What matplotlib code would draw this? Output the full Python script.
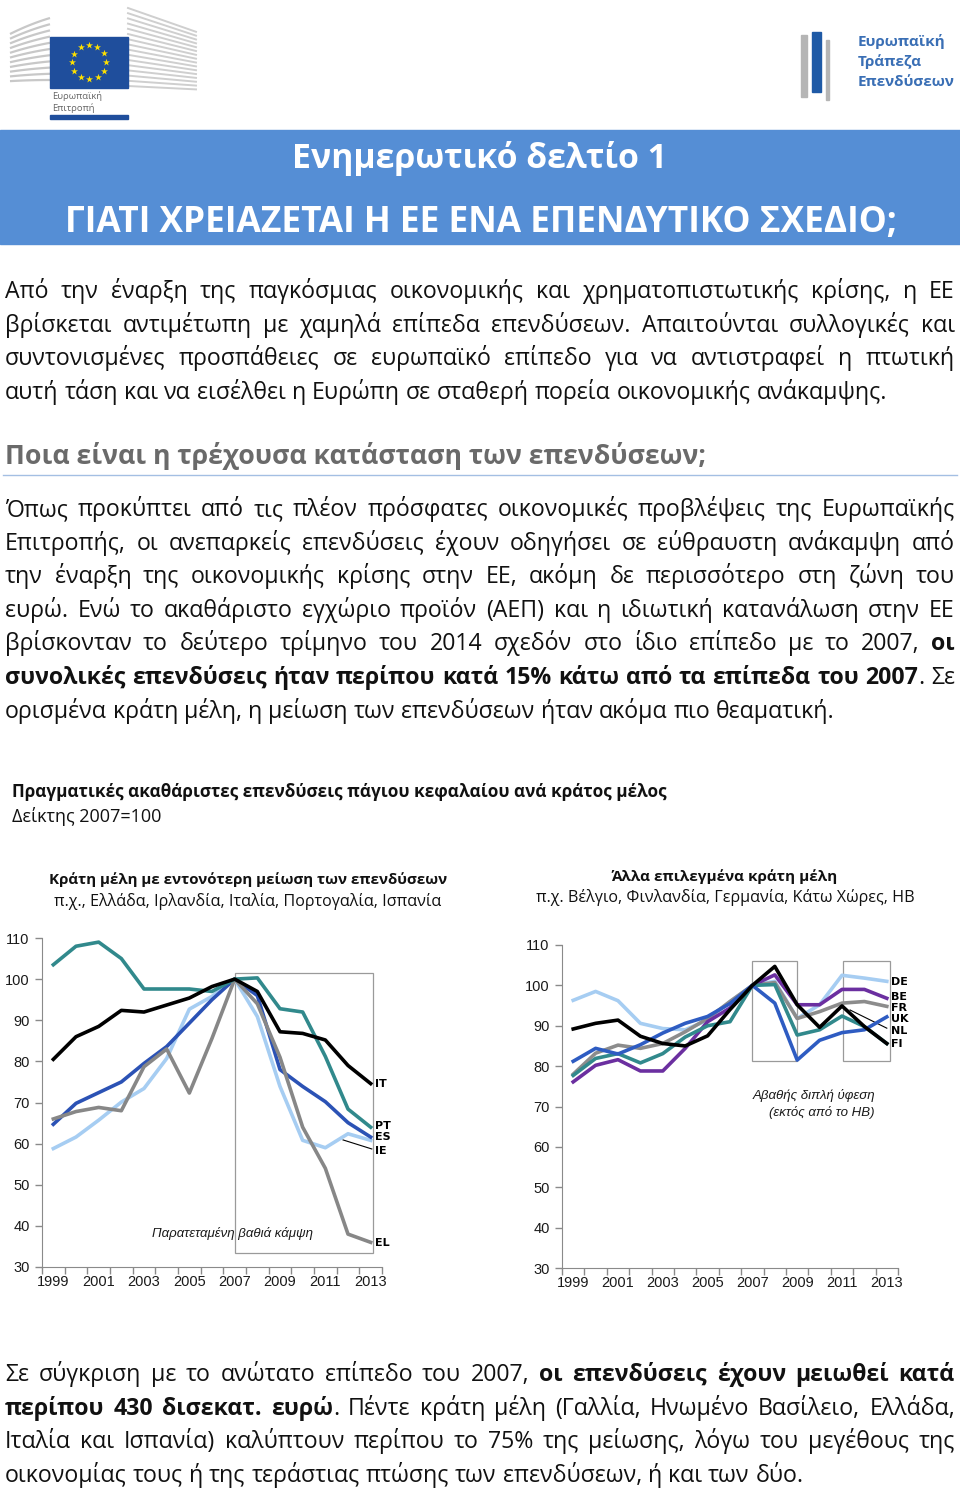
import numpy as np
import matplotlib.pyplot as plt
from matplotlib.patches import Rectangle

W, H = 960, 1491
BODY = ['Open Sans', 'DejaVu Sans']
AX = ['Liberation Sans', 'DejaVu Sans']

years = list(range(1999, 2014))

# left panel: strongest fall in investment (index 2007=100)
it = [80.5, 86.0, 88.5, 92.4, 92.0, 93.7, 95.4, 98.2, 100, 97.0, 87.2, 86.8, 85.2, 79.0, 74.6]
pt = [103.5, 108.0, 109.0, 105.0, 97.6, 97.6, 97.6, 97.0, 100, 100.3, 92.8, 92.0, 81.2, 68.4, 64.0]
es = [64.7, 69.8, 72.4, 75.0, 79.5, 83.6, 89.3, 95.0, 100, 96.0, 78.0, 73.9, 70.2, 65.1, 61.6]
ie = [58.8, 61.6, 65.7, 70.1, 73.4, 80.7, 92.7, 95.8, 100, 90.9, 73.9, 60.8, 59.0, 62.4, 60.8]
el = [66.0, 67.8, 68.8, 68.0, 78.7, 83.0, 72.3, 85.6, 100, 94.0, 81.0, 64.0, 54.0, 38.0, 36.0]

# right panel: other member states
de = [96.3, 98.5, 96.2, 90.6, 89.3, 89.0, 91.4, 96.0, 100, 101.0, 91.8, 95.2, 102.5, 101.8, 101.0]
be = [76.1, 80.2, 81.6, 78.8, 78.8, 84.4, 91.0, 94.4, 100, 102.6, 95.2, 95.2, 99.0, 99.0, 96.8]
fr = [78.0, 83.2, 85.2, 84.4, 85.6, 88.5, 91.8, 96.0, 100, 100.7, 91.8, 93.5, 95.6, 96.0, 94.8]
uk = [81.2, 84.4, 83.0, 85.3, 88.2, 90.6, 92.3, 95.5, 100, 95.6, 81.5, 86.4, 88.3, 89.0, 92.2]
nl = [89.2, 90.6, 91.4, 87.4, 85.6, 85.0, 87.5, 94.0, 100, 104.7, 95.2, 89.6, 94.9, 89.8, 85.6]
fi = [77.7, 81.9, 83.1, 80.8, 83.1, 87.2, 90.0, 91.0, 100, 100.2, 87.7, 89.0, 92.4, 89.8, 85.6]

par1 = [
    "Από την έναρξη της παγκόσμιας οικονομικής και χρηματοπιστωτικής κρίσης, η ΕΕ",
    "βρίσκεται αντιμέτωπη με χαμηλά επίπεδα επενδύσεων. Απαιτούνται συλλογικές και",
    "συντονισμένες προσπάθειες σε ευρωπαϊκό επίπεδο για να αντιστραφεί η πτωτική",
    "αυτή τάση και να εισέλθει η Ευρώπη σε σταθερή πορεία οικονομικής ανάκαμψης.",
]
par2 = [
    "Όπως προκύπτει από τις πλέον πρόσφατες οικονομικές προβλέψεις της Ευρωπαϊκής",
    "Επιτροπής, οι ανεπαρκείς επενδύσεις έχουν οδηγήσει σε εύθραυστη ανάκαμψη από",
    "την έναρξη της οικονομικής κρίσης στην ΕΕ, ακόμη δε περισσότερο στη ζώνη του",
    "ευρώ. Ενώ το ακαθάριστο εγχώριο προϊόν (ΑΕΠ) και η ιδιωτική κατανάλωση στην ΕΕ",
    "βρίσκονταν το δεύτερο τρίμηνο του 2014 σχεδόν στο ίδιο επίπεδο με το 2007, **οι**",
    "**συνολικές επενδύσεις ήταν περίπου κατά 15% κάτω από τα επίπεδα του 2007**. Σε",
    "ορισμένα κράτη μέλη, η μείωση των επενδύσεων ήταν ακόμα πιο θεαματική.",
]
par3 = [
    "Σε σύγκριση με το ανώτατο επίπεδο του 2007, **οι επενδύσεις έχουν μειωθεί κατά**",
    "**περίπου 430 δισεκατ. ευρώ**. Πέντε κράτη μέλη (Γαλλία, Ηνωμένο Βασίλειο, Ελλάδα,",
    "Ιταλία και Ισπανία) καλύπτουν περίπου το 75% της μείωσης, λόγω του μεγέθους της",
    "οικονομίας τους ή της τεράστιας πτώσης των επενδύσεων, ή και των δύο.",
]

fig = plt.figure(figsize=(W / 100, H / 100), dpi=100)
page = fig.add_axes([0, 0, 1, 1])
page.set_xlim(0, W)
page.set_ylim(H, 0)
page.axis('off')
rend = fig.canvas.get_renderer()


def measure(s, size, bold=False, family=BODY):
    t = page.text(0, 0, s, fontsize=size, fontweight='bold' if bold else 'normal', family=family)
    w = t.get_window_extent(rend).width
    t.remove()
    return w


def fit_text(s, x0, x1, y, center=False, **kw):
    t = page.text(x0, y, s, fontsize=10, va='baseline', **kw)
    w = t.get_window_extent(rend).width
    t.set_fontsize(10 * (x1 - x0) / w)
    if center:
        t.set_x((x0 + x1) / 2)
        t.set_ha('center')
    return t


def parse_words(line, state):
    words = []
    for w in line.split(' '):
        pieces = []
        for i, p in enumerate(w.split('**')):
            if i > 0:
                state[0] = not state[0]
            if p:
                pieces.append((p, state[0]))
        words.append(pieces)
    return words


def natural(line, size):
    sp = measure('a a', size) - measure('aa', size)
    words = parse_words(line, [False])
    return sum(measure(p, size, b) for w in words for p, b in w) + sp * (len(words) - 1)


def draw_par(lines, y0, step, size, x0=5, x1=955):
    sp = measure('a a', size) - measure('aa', size)
    state = [False]
    for i, line in enumerate(lines):
        words = parse_words(line, state)
        widths = [[measure(p, size, b) for p, b in w] for w in words]
        tot = sum(sum(ws) for ws in widths)
        last = i == len(lines) - 1
        gap = sp if last else (x1 - x0 - tot) / (len(words) - 1)
        x = x0
        y = y0 + i * step
        for w, ws in zip(words, widths):
            for (p, b), pw in zip(w, ws):
                page.text(x, y, p, fontsize=size, family=BODY, fontweight='bold' if b else 'normal',
                          ha='left', va='baseline', color='#111111')
                x += pw
            x += gap


# ---- logos ----
# European Commission
for i in range(11):
    y = 30 + i * 5
    xs = np.linspace(10, 50, 20)
    page.plot(xs, y + (xs - 50) ** 2 / 400 * (1 - i / 14) - 12 * (1 - i / 10) * (xs - 10) / 40,
              color='#c8c8c8', lw=1.6, solid_capstyle='butt')
for i in range(16):
    y = 8 + i * 5.2
    xs = np.linspace(128, 196, 20)
    page.plot(xs, y + (xs - 128) * (0.35 - i * 0.02), color='#cfcfcf', lw=1.4)
page.add_patch(Rectangle((50, 37), 78, 51, color='#1f4e9c', zorder=3))
ang = np.linspace(0, 2 * np.pi, 13)[:-1]
page.scatter(89 + 17 * np.cos(ang), 62 + 17 * np.sin(ang), marker='*', s=28, color='#ffe100', zorder=4, lw=0)
page.text(52, 99, 'Ευρωπαϊκή', fontsize=6.8, family=BODY, color='#666666', va='baseline')
page.text(52, 111, 'Επιτροπή', fontsize=6.8, family=BODY, color='#666666', va='baseline')
page.add_patch(Rectangle((50, 115), 78, 4, color='#1f4e9c'))
# European Investment Bank
page.add_patch(Rectangle((801, 35), 6, 62, color='#b5b5b5'))
page.add_patch(Rectangle((812, 32), 9, 60, color='#1f5aa6'))
page.add_patch(Rectangle((826, 40), 3, 60, color='#b5b5b5'))
for k, s in enumerate(['Ευρωπαϊκή', 'Τράπεζα', 'Επενδύσεων']):
    page.text(858, 46 + k * 20, s, fontsize=11, family=BODY, fontweight='bold', color='#3a6fb5',
              va='baseline')

# ---- banner ----
page.add_patch(Rectangle((0, 130), W, 114, color='#558ed5'))
fit_text('Ενημερωτικό δελτίο 1', 292, 667, 168, center=True, family=BODY, color='white',
         fontweight='bold')
fit_text('ΓΙΑΤΙ ΧΡΕΙΑΖΕΤΑΙ Η ΕΕ ΕΝΑ ΕΠΕΝΔΥΤΙΚΟ ΣΧΕΔΙΟ;', 65, 897, 232, center=True,
         family=BODY, color='white', fontweight='bold')

# ---- body text ----
base = 10
size = base * 942 / max(natural(l, base) for l in par1[:-1] + par2[:-1] + par3[:-1])
draw_par(par1, 298, 33.6, size)
fit_text('Ποια είναι η τρέχουσα κατάσταση των επενδύσεων;', 5, 705, 464,
         family=BODY, color='#6a6a6a', fontweight='bold')
page.plot([3, 957], [475, 475], color='#a4bfe3', lw=1)
draw_par(par2, 516, 33.6, size)
draw_par(par3, 1381, 33.6, size)

# ---- chart titles ----
fit_text('Πραγματικές ακαθάριστες επενδύσεις πάγιου κεφαλαίου ανά κράτος μέλος', 12, 668, 797,
         family=BODY, fontweight='bold', color='#111111')
fit_text('Δείκτης 2007=100', 12, 162, 822, family=BODY, color='#111111')
fit_text('Κράτη μέλη με εντονότερη μείωση των επενδύσεων', 49, 447, 884, center=True,
         family=BODY, fontweight='bold', color='#111111')
fit_text('π.χ., Ελλάδα, Ιρλανδία, Ιταλία, Πορτογαλία, Ισπανία', 54, 441, 906, center=True,
         family=BODY, color='#111111')
fit_text('Άλλα επιλεγμένα κράτη μέλη', 612, 838, 881, center=True,
         family=BODY, fontweight='bold', color='#111111')
fit_text('π.χ. Βέλγιο, Φινλανδία, Γερμανία, Κάτω Χώρες, ΗΒ', 537, 914, 902, center=True,
         family=BODY, color='#111111')


def style(ax):
    ax.set_xlim(1998.5, 2013.5)
    ax.set_ylim(30, 110)
    ax.set_yticks(range(30, 111, 10))
    ax.set_xticks(np.arange(1998.5, 2014, 1))
    ax.set_xticklabels([])
    ax.set_xticks(years[::2], minor=True)
    ax.set_xticklabels([str(y) for y in years[::2]], minor=True)
    ax.tick_params(axis='x', which='minor', length=0, pad=6)
    ax.tick_params(axis='x', which='major', length=5, color='#8a8a8a', width=1)
    ax.tick_params(axis='y', length=5, color='#8a8a8a', width=1, pad=4)
    for lab in ax.get_xticklabels(minor=True) + ax.get_yticklabels():
        lab.set_family(AX)
        lab.set_fontsize(10.5)
        lab.set_color('#1a1a1a')
    for s in ['top', 'right']:
        ax.spines[s].set_visible(False)
    for s in ['left', 'bottom']:
        ax.spines[s].set_color('#8a8a8a')
    ax.patch.set_alpha(0)


lw = 2.6
teal = '#31898c'
light = '#a6cdf2'
LAB = ['DejaVu Sans']

axl = fig.add_axes([42 / W, 1 - 1267 / H, 340 / W, 329 / H])
style(axl)
axl.add_patch(Rectangle((2007, 33.5), 6.1, 68, fill=False, ec='#9a9a9a', lw=0.9, zorder=1))
for ys, c in [(ie, light), (es, '#2b52b5'), (el, '#878787'), (pt, teal), (it, 'black')]:
    axl.plot(years, ys, color=c, lw=lw, zorder=3)
for name, v in [('IT', 74.5), ('PT', 64.3), ('ES', 61.6), ('IE', 58.2), ('EL', 35.8)]:
    axl.text(2013.2, v, name, fontsize=8, fontweight='heavy', family=LAB, va='center')
axl.plot([2011.78, 2013.05], [60.9, 58.7], color='black', lw=0.8)
axl.text(2006.9, 38.2, 'Παρατεταμένη βαθιά κάμψη', fontsize=9.5, style='italic', family=AX,
         ha='center', va='center', color='#1a1a1a')

axr = fig.add_axes([562 / W, 1 - 1268 / H, 336 / W, 323 / H])
style(axr)
for x0, x1 in [(2007.0, 2009.0), (2011.03, 2013.14)]:
    axr.add_patch(Rectangle((x0, 81.3), x1 - x0, 24.8, fill=False, ec='#9a9a9a', lw=0.9, zorder=1))
for ys, c in [(de, light), (fr, '#8c8c8c'), (be, '#6b2fa0'), (fi, teal), (uk, '#2e5cc2'), (nl, 'black')]:
    axr.plot(years, ys, color=c, lw=lw, zorder=3)
for name, v in [('DE', 100.9), ('BE', 97.2), ('FR', 94.5), ('UK', 91.7), ('NL', 88.8), ('FI', 85.4)]:
    axr.text(2013.2, v, name, fontsize=8, fontweight='heavy', family=LAB, va='center')
axr.plot([2011.36, 2013.0], [93.9, 89.4], color='black', lw=0.8)
axr.text(2012.47, 72.7, 'Αβαθής διπλή ύφεση', fontsize=9.5, style='italic', family=AX,
         ha='right', va='center', color='#1a1a1a')
axr.text(2012.47, 68.5, '(εκτός από το ΗΒ)', fontsize=9.5, style='italic', family=AX,
         ha='right', va='center', color='#1a1a1a')

fig.savefig('out.png', dpi=100)
